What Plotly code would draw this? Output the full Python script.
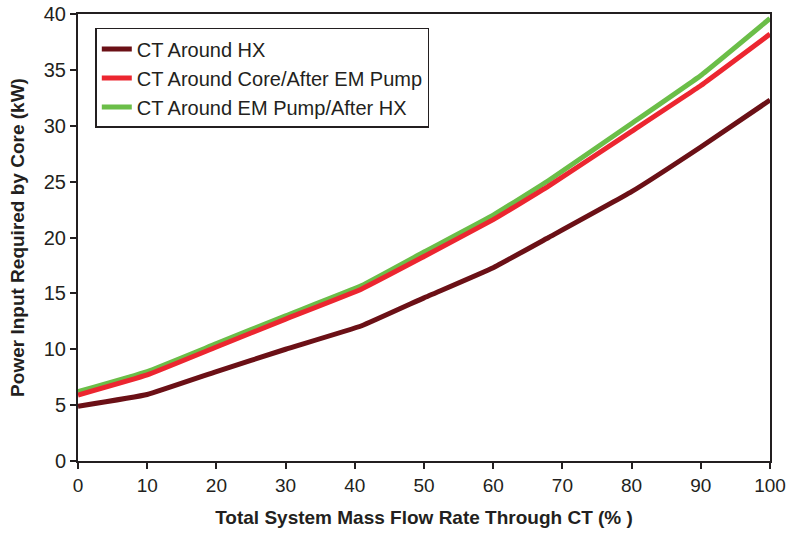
import plotly.graph_objects as go

flow = [0, 10, 20, 30, 41, 50, 60, 68, 80, 90, 100]
ct_hx = [4.9, 5.95, 8.0, 10.0, 12.1, 14.6, 17.3, 20.0, 24.1, 28.1, 32.3]
ct_core = [5.9, 7.7, 10.2, 12.7, 15.4, 18.3, 21.6, 24.6, 29.5, 33.6, 38.2]
ct_em = [6.2, 8.0, 10.5, 13.0, 15.7, 18.7, 22.0, 25.1, 30.2, 34.5, 39.6]

names = ["CT Around HX", "CT Around Core/After EM Pump", "CT Around EM Pump/After HX"]
colors = ["#6B1016", "#EC2630", "#6BBE48"]

font_family = "Liberation Sans Narrow, Liberation Sans, Arial, sans-serif"
bold_family = "Liberation Sans, Arial, sans-serif"

fig = go.Figure()
for ys, name, col in [(ct_em, names[2], colors[2]), (ct_core, names[1], colors[1]), (ct_hx, names[0], colors[0])]:
    fig.add_trace(go.Scatter(x=flow, y=ys, mode="lines", name=name,
                             line=dict(color=col, width=5, shape="spline", smoothing=0.3)))

fig.update_layout(
    width=786, height=535,
    margin=dict(l=78, r=16, t=14, b=74),
    paper_bgcolor="white", plot_bgcolor="white",
    font=dict(family=font_family, size=19, color="#231F20"),
    showlegend=True,
    legend=dict(x=0.025, y=0.9687, xanchor="left", yanchor="top",
                traceorder="reversed", bordercolor="#231F20", borderwidth=1.5,
                bgcolor="white", font=dict(size=20, family=font_family),
                itemwidth=30, tracegroupgap=0),
)
fig.update_xaxes(range=[0, 100], tickvals=list(range(0, 101, 10)),
                 showgrid=False, zeroline=False, showline=True, linecolor="#231F20",
                 linewidth=2, mirror=True, ticks="outside", ticklen=6, tickwidth=1.5,
                 tickcolor="#231F20", automargin=False, ticklabeloverflow="allow",
                 tickfont=dict(size=19),
                 title=dict(text="<b>Total System Mass Flow Rate Through CT (% )</b>",
                            font=dict(size=19, family=bold_family), standoff=16))
fig.update_yaxes(range=[0, 40], tickvals=list(range(0, 41, 5)),
                 showgrid=False, zeroline=False, showline=True, linecolor="#231F20",
                 linewidth=2, mirror=True, ticks="outside", ticklen=6, tickwidth=1.5,
                 tickcolor="#231F20", automargin=False, ticklabeloverflow="allow",
                 tickfont=dict(size=20),
                 title=dict(text="<b>Power Input Required by Core (kW)</b>",
                            font=dict(size=19, family=bold_family), standoff=14))

fig.write_html("out.html", config={"displayModeBar": False},
               post_script="document.body.style.margin='0px';")
